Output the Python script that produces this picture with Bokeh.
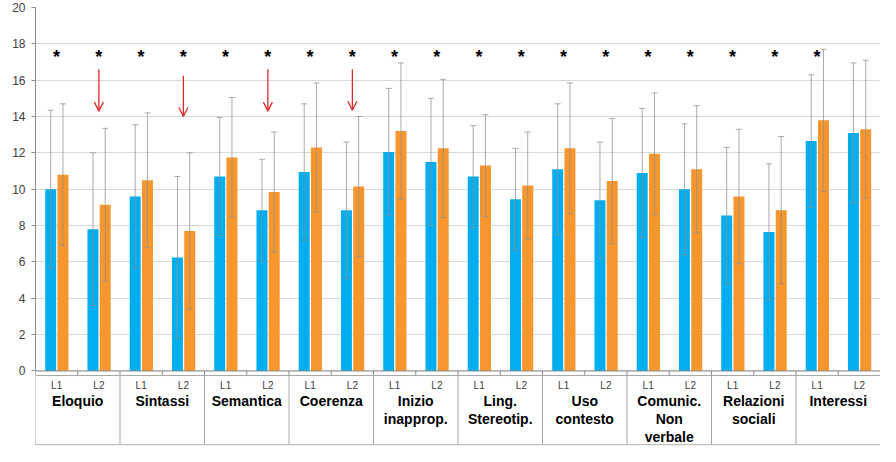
from bokeh.plotting import figure
from bokeh.models import (ColumnDataSource, FactorRange, FixedTicker, Whisker, TeeHead,
                          Arrow, OpenHead)
from bokeh.transform import dodge
from bokeh.core.properties import value
from bokeh.embed import file_html
from bokeh.resources import INLINE

# ---------------- data ----------------
groups = ["Eloquio", "Sintassi", "Semantica", "Coerenza", "Inizio inapprop.",
          "Ling. Stereotip.", "Uso contesto", "Comunic. Non verbale",
          "Relazioni sociali", "Interessi"]
group_labels = ["Eloquio", "Sintassi", "Semantica", "Coerenza", "Inizio\ninapprop.",
                "Ling.\nStereotip.", "Uso\ncontesto", "Comunic.\nNon\nverbale",
                "Relazioni\nsociali", "Interessi"]
subs = ["L1", "L2"]

blue_means = [10.0, 7.8, 9.6, 6.25, 10.7, 8.85, 10.95, 8.85, 12.05, 11.5,
              10.7, 9.45, 11.1, 9.4, 10.9, 10.0, 8.55, 7.65, 12.65, 13.1]
blue_sd = [4.35, 4.2, 3.95, 4.45, 3.25, 2.8, 3.75, 3.75, 3.5, 3.5,
           2.8, 2.8, 3.6, 3.2, 3.55, 3.6, 3.75, 3.75, 3.65, 3.85]
orange_means = [10.8, 9.15, 10.5, 7.7, 11.75, 9.85, 12.3, 10.15, 13.2, 12.25,
                11.3, 10.2, 12.25, 10.45, 11.95, 11.1, 9.6, 8.85, 13.8, 13.3]
orange_sd = [3.9, 4.2, 3.7, 4.3, 3.3, 3.3, 3.55, 3.85, 3.75, 3.8,
             2.8, 2.95, 3.6, 3.45, 3.35, 3.5, 3.7, 4.05, 3.9, 3.8]

significant = [True] * 19 + [False]          # asterisks
arrow_subgroups = [("Eloquio", "L2"), ("Sintassi", "L2"), ("Semantica", "L2"), ("Coerenza", "L2")]
arrow_top = [16.6, 16.25, 16.6, 16.6]
arrow_bottom = [14.3, 14.0, 14.3, 14.35]

y_ticks = [0, 2, 4, 6, 8, 10, 12, 14, 16, 18, 20]

# ---------------- figure ----------------
factors = [(g, s) for g in groups for s in subs]
BLUE = "#00AEEF"
ORANGE = "#F7962D"
GRAY = "#A6A6A6"
FONT = "Liberation Sans"

p = figure(width=880, height=446, output_backend="svg", toolbar_location=None,
           x_range=FactorRange(*factors, range_padding=0, group_padding=0, factor_padding=0),
           y_range=(-4.1, 20), x_axis_location=None,
           min_border_left=35, min_border_right=0, min_border_top=7, min_border_bottom=1)
p.outline_line_color = None
p.xgrid.visible = False
p.yaxis.ticker = FixedTicker(ticks=y_ticks)
p.yaxis.bounds = (0, 20)
p.yaxis.axis_line_color = "#8C8C8C"
p.yaxis.major_tick_line_color = "#8C8C8C"
p.yaxis.major_tick_out = 4
p.yaxis.major_tick_in = 0
p.yaxis.minor_tick_line_color = None
p.yaxis.major_label_text_font = FONT
p.yaxis.major_label_text_font_size = "12px"
p.yaxis.major_label_text_color = "#404040"
p.yaxis.major_label_standoff = 6
p.ygrid.grid_line_color = "#D9D9D9"

src = ColumnDataSource(dict(
    x=factors,
    b=blue_means, o=orange_means,
    bu=[m + s for m, s in zip(blue_means, blue_sd)],
    bl=[m - s for m, s in zip(blue_means, blue_sd)],
    ou=[m + s for m, s in zip(orange_means, orange_sd)],
    ol=[m - s for m, s in zip(orange_means, orange_sd)],
))

p.vbar(x=dodge("x", -0.14, range=p.x_range), top="b", width=0.26, source=src,
       fill_color=BLUE, line_color=None)
p.vbar(x=dodge("x", 0.15, range=p.x_range), top="o", width=0.26, source=src,
       fill_color=ORANGE, line_color=None)

for off, up, lo in [(-0.14, "bu", "bl"), (0.15, "ou", "ol")]:
    w = Whisker(base=dodge("x", off, range=p.x_range), upper=up, lower=lo, source=src,
                dimension="height", line_color="#8F8F8F", line_alpha=0.75, line_width=1,
                upper_head=TeeHead(size=6, line_color="#8F8F8F", line_alpha=0.75),
                lower_head=TeeHead(size=6, line_color="#8F8F8F", line_alpha=0.75),
                level="overlay")
    p.add_layout(w)

# asterisks
sig_x = [f for f, s in zip(factors, significant) if s]
p.text(x=sig_x, y=[17.3] * len(sig_x), text=["*"] * len(sig_x),
       text_font=value(FONT), text_font_style="bold", text_font_size="18px",
       text_align="center", text_baseline="alphabetic", text_color="black")

# red arrows
asrc = ColumnDataSource(dict(x=arrow_subgroups, y0=arrow_top, y1=arrow_bottom))
p.add_layout(Arrow(source=asrc, x_start="x", y_start="y0", x_end="x", y_end="y1",
                   line_color="#E0282B", line_width=1.3,
                   end=OpenHead(size=9, line_color="#E0282B", line_width=1.3)))

# category axis drawn as a table below zero
first_edge = (groups[0], subs[0], -0.5)
last_edge = (groups[-1], subs[-1], 0.5)
p.segment(x0=[first_edge], y0=[0], x1=[last_edge], y1=[0], line_color="#8C8C8C", line_width=1)
tick_x = [(g, s, -0.5) for g, s in factors] + [last_edge]
p.segment(x0=tick_x, y0=[0] * len(tick_x), x1=tick_x, y1=[-0.25] * len(tick_x),
          line_color="#8C8C8C", line_width=1)
sep_x = [(g, subs[0], -0.5) for g in groups] + [last_edge]
p.segment(x0=sep_x, y0=[-0.25] * len(sep_x), x1=sep_x, y1=[-4.06] * len(sep_x),
          line_color=GRAY, line_width=1)
p.segment(x0=[first_edge, first_edge], y0=[-0.25, -4.06], x1=[last_edge, last_edge],
          y1=[-0.25, -4.06], line_color=GRAY, line_width=1)

p.text(x=factors, y=[-0.78] * len(factors), text=[s for _, s in factors],
       text_font=value(FONT), text_font_size="10px", text_align="center",
       text_baseline="middle", text_color="#404040")
p.text(x=[(g, subs[0], 0.5) for g in groups], y=[-1.22] * len(groups), text=group_labels,
       text_font=value(FONT), text_font_style="bold", text_font_size="14px",
       text_align="center", text_baseline="top", text_color="black", text_line_height=1.12)

open("out.html", "w").write(file_html(p, INLINE))
